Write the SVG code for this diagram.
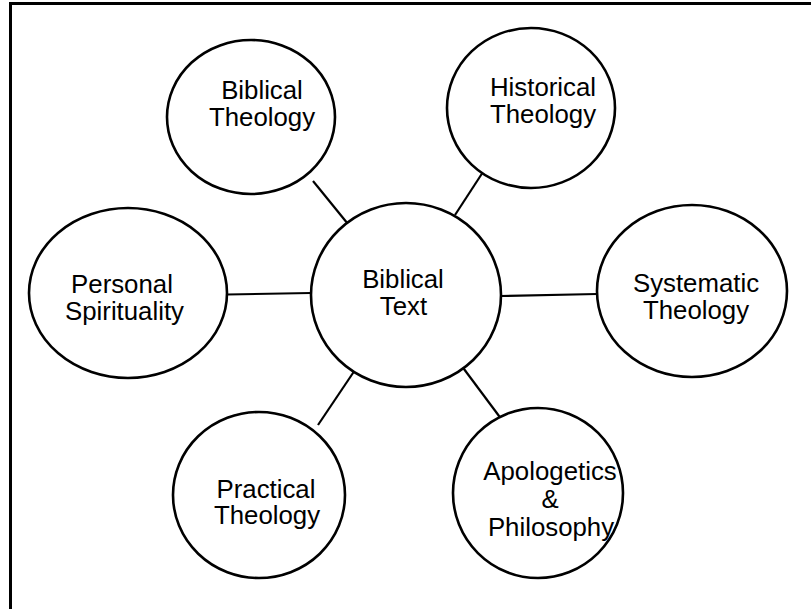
<svg xmlns="http://www.w3.org/2000/svg" width="811" height="609" viewBox="0 0 811 609">
<style>
.n{fill:#fff;stroke:#000;stroke-width:2.6}
.t{font-family:"Liberation Sans",Arial,sans-serif;font-size:25.8px;fill:#000;text-anchor:middle}
.c line{stroke:#000;stroke-width:2.2}
</style>
<rect width="811" height="609" fill="#fff"/>
<path d="M10.5 609V3.5H811" fill="none" stroke="#000" stroke-width="3"/>
<g class="c" id="connectors">
<line x1="313" y1="181" x2="348" y2="224"/>
<line x1="483" y1="172" x2="455" y2="215"/>
<line x1="227" y1="294.5" x2="311" y2="293"/>
<line x1="501" y1="296" x2="597" y2="294"/>
<line x1="355" y1="370" x2="318" y2="425"/>
<line x1="461" y1="365" x2="502" y2="420"/>
</g>
<g id="biblical-text"><ellipse class="n" cx="406" cy="295" rx="95" ry="92"/><text class="t" x="403" y="288">Biblical</text><text class="t" x="403.5" y="315">Text</text></g>
<g id="biblical-theology"><ellipse class="n" cx="251" cy="117" rx="84" ry="77"/><text class="t" x="262" y="99">Biblical</text><text class="t" x="262" y="126">Theology</text></g>
<g id="historical-theology"><ellipse class="n" cx="531" cy="108" rx="84" ry="80"/><text class="t" x="543" y="96">Historical</text><text class="t" x="543" y="123">Theology</text></g>
<g id="personal-spirituality"><ellipse class="n" cx="128" cy="293" rx="99" ry="85"/><text class="t" x="122" y="292.5">Personal</text><text class="t" x="124.5" y="320">Spirituality</text></g>
<g id="systematic-theology"><ellipse class="n" cx="692" cy="291" rx="95" ry="86"/><text class="t" x="696" y="292">Systematic</text><text class="t" x="696" y="319">Theology</text></g>
<g id="practical-theology"><ellipse class="n" cx="259" cy="495" rx="86" ry="83"/><text class="t" x="266" y="497.5">Practical</text><text class="t" x="267" y="524">Theology</text></g>
<g id="apologetics-philosophy"><ellipse class="n" cx="538" cy="493" rx="85" ry="85"/><text class="t" x="550" y="480">Apologetics</text><text class="t" x="550" y="507.5">&amp;</text><text class="t" x="551" y="535.5">Philosophy</text></g>
</svg>
